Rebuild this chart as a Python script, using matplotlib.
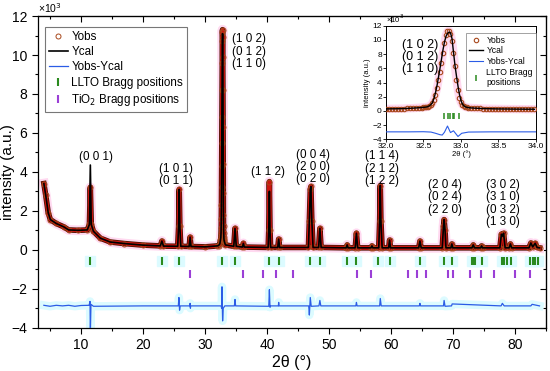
import matplotlib
matplotlib.use('Agg')
import matplotlib.pyplot as plt
import matplotlib.patheffects as pe
from matplotlib.ticker import MultipleLocator, FormatStrFormatter

plt.rcParams['font.family'] = ['Liberation Sans', 'DejaVu Sans']

# ---- data (intensity in units of 10^3 counts) ----
# main pattern before the strongest reflection
tt_a = [4.0, 4.3, 4.7, 5.05, 6.0, 7.2, 8.0, 9.5, 11.0, 11.35, 11.5, 11.65, 12.0, 13.1, 14.7,
        17.0, 20.0, 22.8, 23.05, 23.3, 25.6, 25.75, 25.85, 25.95, 26.1, 27.45, 27.6, 27.75,
        30.0, 32.0, 32.2, 32.4]
obs_a = [3.40, 2.80, 1.90, 1.55, 1.35, 1.18, 1.02, 1.00, 1.02, 1.30, 3.20, 1.30, 0.95, 0.60, 0.40,
         0.32, 0.24, 0.20, 0.45, 0.19, 0.18, 1.20, 3.10, 1.20, 0.18, 0.17, 0.65, 0.17,
         0.15, 0.20, 0.22, 0.30]
cal_a = [3.40, 2.80, 1.90, 1.55, 1.35, 1.18, 1.02, 1.00, 1.02, 1.30, 4.35, 1.30, 0.95, 0.60, 0.40,
         0.32, 0.24, 0.20, 0.45, 0.19, 0.18, 1.20, 3.10, 1.20, 0.18, 0.17, 0.65, 0.17,
         0.15, 0.20, 0.22, 0.30]

# (1 0 2)/(0 1 2)/(1 1 0) reflection, also shown in the inset
tt_pk = [32.50, 32.52, 32.54, 32.56, 32.58, 32.60, 32.62, 32.64, 32.66, 32.68, 32.70, 32.72, 32.74,
         32.76, 32.78, 32.80, 32.82, 32.84, 32.86, 32.88, 32.90, 32.92, 32.94, 32.96, 32.98, 33.00,
         33.02, 33.04, 33.06, 33.08, 33.10]
obs_pk = [0.50, 0.52, 0.55, 0.60, 0.70, 0.85, 1.10, 1.60, 2.30, 3.20, 4.30, 5.50, 6.80,
          8.20, 9.60, 10.70, 11.20, 11.30, 10.90, 9.90, 8.20, 6.30, 4.40, 2.90, 1.80, 1.20,
          0.85, 0.65, 0.55, 0.50, 0.46]
cal_pk = [0.50, 0.52, 0.55, 0.62, 0.73, 0.90, 1.20, 1.75, 2.55, 3.55, 4.75, 6.00, 7.30,
          8.60, 9.70, 10.50, 10.90, 11.10, 11.00, 10.20, 8.30, 6.40, 4.90, 3.50, 2.30, 1.45,
          0.95, 0.70, 0.57, 0.50, 0.46]

# main pattern after the strongest reflection
tt_b = [33.3, 34.65, 34.85, 35.05, 36.05, 36.2, 36.35, 40.2, 40.3, 40.4, 40.5, 40.6, 41.75, 41.9,
        42.05, 46.7, 46.85, 47.0, 47.1, 47.25, 47.45, 48.35, 48.55, 48.75, 52.8, 52.95, 53.1,
        54.25, 54.45, 54.65, 56.8, 56.95, 57.1, 58.05, 58.2, 58.3, 58.4, 58.6, 59.65, 59.8,
        59.95, 64.5, 64.7, 64.9, 68.3, 68.5, 68.6, 68.75, 68.9, 69.7, 69.85, 70.0, 73.1, 73.3,
        73.5, 74.5, 74.65, 74.8, 77.6, 77.85, 78.05, 78.2, 78.45, 79.1, 79.3, 79.5, 82.3, 82.6,
        82.9, 83.3, 83.6, 84.0]
obs_b = [0.25, 0.18, 1.10, 0.18, 0.14, 0.33, 0.14, 0.12, 1.00, 3.50, 1.00, 0.12, 0.12, 0.55,
         0.12, 0.12, 1.50, 3.10, 3.25, 1.50, 0.12, 0.12, 1.10, 0.12, 0.10, 0.25, 0.10,
         0.10, 0.85, 0.10, 0.10, 0.20, 0.10, 0.10, 1.50, 3.30, 1.50, 0.10, 0.10, 0.50,
         0.10, 0.10, 0.45, 0.10, 0.10, 1.20, 1.55, 1.00, 0.10, 0.10, 0.30, 0.10, 0.10, 0.25,
         0.10, 0.10, 0.20, 0.10, 0.10, 0.80, 0.70, 0.85, 0.10, 0.10, 0.30, 0.10, 0.10, 0.35,
         0.15, 0.33, 0.12, 0.10]
cal_b = [0.25, 0.18, 1.10, 0.18, 0.14, 0.33, 0.14, 0.12, 1.00, 3.00, 1.00, 0.12, 0.12, 0.55,
         0.12, 0.12, 1.50, 3.10, 3.25, 1.50, 0.12, 0.12, 1.10, 0.12, 0.10, 0.25, 0.10,
         0.10, 0.85, 0.10, 0.10, 0.20, 0.10, 0.10, 1.50, 3.30, 1.50, 0.10, 0.10, 0.50,
         0.10, 0.10, 0.45, 0.10, 0.10, 1.20, 1.55, 1.00, 0.10, 0.10, 0.30, 0.10, 0.10, 0.25,
         0.10, 0.10, 0.20, 0.10, 0.10, 0.80, 0.70, 0.85, 0.10, 0.10, 0.30, 0.10, 0.10, 0.35,
         0.15, 0.33, 0.12, 0.10]

# difference curve (already offset)
tt_diff = [4.0, 5.0, 6.0, 7.0, 8.0, 9.0, 10.0, 11.3, 11.45, 11.5, 11.6, 12.0, 20.0, 25.7, 25.8,
           25.9, 26.0, 27.55, 27.6, 27.65, 27.7, 32.6, 32.7, 32.75, 32.8, 32.85, 32.95, 33.2,
           34.75, 34.85, 34.95, 40.3, 40.4, 40.5, 40.6, 41.85, 41.9, 41.95, 46.75, 46.85, 47.0,
           47.15, 48.4, 48.55, 48.7, 54.35, 54.45, 54.55, 58.2, 58.3, 58.45, 64.6, 64.7, 64.8,
           68.5, 68.6, 68.75, 69.8, 69.9, 77.8, 78.0, 78.3, 82.6, 82.8, 84.0]
ydiff = [-2.85, -2.90, -2.85, -2.88, -2.85, -2.90, -2.86, -2.85, -2.65, -4.40, -2.80, -2.90, -2.88,
         -2.88, -2.45, -3.10, -2.88, -2.88, -2.75, -3.00, -2.88, -2.88, -3.00, -1.90, -2.90,
         -3.65, -3.00, -2.88, -2.88, -2.55, -2.88, -2.90, -2.05, -2.95, -2.88, -2.88, -2.70,
         -2.88, -2.88, -3.35, -2.45, -2.90, -2.88, -2.60, -2.88, -2.88, -2.70, -2.88, -2.88,
         -2.50, -2.88, -2.88, -2.75, -2.88, -2.88, -2.60, -2.90, -2.88, -2.78, -2.88, -2.75,
         -2.88, -2.88, -2.80, -2.88]

# Bragg positions
llto_pos = [11.5, 23.06, 25.85, 32.74, 34.8, 40.4, 42.0, 47.0, 48.6, 52.9, 54.4, 58.0, 59.8, 64.7,
            68.6, 69.8, 73.1, 73.4, 73.6, 74.7, 77.9, 78.3, 78.7, 79.4, 82.5, 83.0, 83.3, 83.8]
tio2_pos = [27.6, 36.2, 39.35, 41.4, 44.2, 54.5, 56.8, 62.8, 64.2, 65.6, 69.3, 70.0, 72.7, 74.6,
            76.7, 80.0, 82.5]

# inset: baseline on either side of the peak
tt_left = [32.00, 32.04, 32.08, 32.12, 32.16, 32.20, 32.24, 32.28, 32.32, 32.36, 32.40, 32.44, 32.48]
y_left = [0.28, 0.29, 0.30, 0.30, 0.31, 0.32, 0.33, 0.35, 0.37, 0.39, 0.42, 0.45, 0.48]
tt_right = [33.14, 33.18, 33.22, 33.26, 33.30, 33.34, 33.38, 33.42, 33.46, 33.50, 33.54, 33.58,
            33.62, 33.66, 33.70, 33.74, 33.78, 33.82, 33.86, 33.90, 33.94, 33.98]
y_right = [0.42, 0.39, 0.37, 0.35, 0.33, 0.32, 0.31, 0.30, 0.29, 0.28, 0.28, 0.27,
           0.27, 0.26, 0.26, 0.25, 0.25, 0.25, 0.24, 0.24, 0.24, 0.23]
tt_diff_in = [32.0, 32.3, 32.5, 32.6, 32.66, 32.72, 32.75, 32.78, 32.82, 32.86, 32.9, 32.96,
              33.01, 33.1, 33.4, 34.0]
ydiff_in = [-2.95, -2.95, -2.93, -2.98, -3.15, -3.35, -3.40, -3.00, -2.13, -3.05, -2.80, -3.60,
            -3.15, -2.98, -2.95, -2.95]
llto_in = [32.77, 32.83, 32.86, 32.89, 32.91, 32.97]

hkl_main = [(12.4, 4.78, '(0 0 1)'), (25.3, 3.84, '(1 0 1)\n(0 1 1)'),
            (40.2, 4.0, '(1 1 2)'), (47.4, 4.25, '(0 0 4)\n(2 0 0)\n(0 2 0)'),
            (58.55, 4.17, '(1 1 4)\n(2 1 2)\n(1 2 2)'), (68.75, 2.7, '(2 0 4)\n(0 2 4)\n(2 2 0)'),
            (78.1, 2.37, '(3 0 2)\n(3 1 0)\n(0 3 2)\n(1 3 0)')]

tt = tt_a + tt_pk + tt_b
yobs = obs_a + obs_pk + obs_b
ycal = cal_a + cal_pk + cal_b
tt_in = tt_left + tt_pk + tt_right
yobs_in = y_left + obs_pk + y_right
ycal_in = y_left + cal_pk + y_right

c_obs = '#a8481c'
c_red = '#cc1410'
c_diff = '#2b5ce6'
c_llto = '#2a8a1e'
c_tio2 = '#9b3fd6'
c_pink = '#ffd9f0'
c_cyan = '#dcfbff'

fig = plt.figure(figsize=(5.5, 3.71), dpi=100)
ax = fig.add_axes([0.0685, 0.1167, 0.9237, 0.840])

ax.plot(tt, yobs, color=c_pink, lw=7, zorder=1)
ax.plot(tt_diff, ydiff, color=c_cyan, lw=6, zorder=1)
ax.plot(llto_pos, [-0.55] * len(llto_pos), ls='none', marker='s', ms=7, color=c_cyan, zorder=1)
ax.plot(tt, yobs, color=c_red, lw=2.8, zorder=2,
        path_effects=[pe.Stroke(linewidth=4.0, foreground='#4a1200'), pe.Normal()])
ax.plot(tt, yobs, ls='none', marker='o', ms=3.6, mfc='none', mec=c_obs, mew=0.7, zorder=3,
        label='Yobs')
ax.plot(tt, ycal, color='k', lw=1.2, zorder=4, label='Ycal')
ax.plot(tt_diff, ydiff, color=c_diff, lw=0.9, zorder=3, label='Yobs-Ycal')
ax.plot(llto_pos, [-0.55] * len(llto_pos), ls='none', marker='|', ms=5.5, mew=1.5, color=c_llto,
        zorder=3, label='LLTO Bragg positions')
ax.plot(tio2_pos, [-1.25] * len(tio2_pos), ls='none', marker='|', ms=5.5, mew=1.5, color=c_tio2,
        zorder=3, label='TiO$_2$ Bragg positions')

for x, y, s in hkl_main:
    ax.text(x, y, s, ha='center', va='center', multialignment='center', fontsize=8.4,
            linespacing=1.05, zorder=5)
ax.text(34.35, 10.18, '(1 0 2)\n(0 1 2)\n(1 1 0)', ha='left', va='center', fontsize=8.4,
        linespacing=1.05, zorder=5)

ax.set_xlim(3, 85)
ax.set_ylim(-4, 12)
ax.xaxis.set_major_locator(MultipleLocator(10))
ax.xaxis.set_minor_locator(MultipleLocator(5))
ax.yaxis.set_major_locator(MultipleLocator(2))
ax.yaxis.set_minor_locator(MultipleLocator(1))
ax.tick_params(which='both', direction='out', labelsize=10, width=0.8)
ax.tick_params(which='major', length=4)
ax.tick_params(which='minor', length=2.5)
for sp in ax.spines.values():
    sp.set_linewidth(0.9)
secx = ax.secondary_xaxis('top')
secx.xaxis.set_major_locator(MultipleLocator(10))
secx.xaxis.set_minor_locator(MultipleLocator(5))
secx.tick_params(which='both', direction='in', labeltop=False, width=0.8)
secx.tick_params(which='major', length=4)
secx.tick_params(which='minor', length=2.5)
secy = ax.secondary_yaxis('right')
secy.yaxis.set_major_locator(MultipleLocator(2))
secy.yaxis.set_minor_locator(MultipleLocator(1))
secy.tick_params(which='both', direction='in', labelright=False, width=0.8)
secy.tick_params(which='major', length=4)
secy.tick_params(which='minor', length=2.5)

ax.set_xlabel('2θ (°)', fontsize=11.5, labelpad=2)
ax.set_ylabel('intensity (a.u.)', fontsize=11)
ax.yaxis.set_label_coords(-0.044, 0.5)
ax.text(0.0, 1.01, '×10$^3$', transform=ax.transAxes, ha='left', va='baseline', fontsize=7.5)

leg = ax.legend(loc='upper left', bbox_to_anchor=(0.0144, 0.9657), borderaxespad=0,
                fontsize=8.4, frameon=True, fancybox=False, handlelength=1.6,
                handletextpad=0.3, labelspacing=0.28, borderpad=0.35)
leg.get_frame().set_edgecolor('#555555')
leg.get_frame().set_linewidth(0.8)

# ---- inset ----
axin = fig.add_axes([0.7018, 0.6245, 0.2727, 0.3062])
axin.plot(tt_in, yobs_in, color=c_pink, lw=6, zorder=1)
axin.plot(tt_in, yobs_in, ls='none', marker='o', ms=3.2, mfc='none', mec=c_obs, mew=0.8, zorder=3,
          label='Yobs')
axin.plot(tt_in, ycal_in, color='k', lw=1.0, zorder=4, label='Ycal')
axin.plot(tt_diff_in, ydiff_in, color=c_diff, lw=0.8, zorder=3, label='Yobs-Ycal')
axin.plot(llto_in, [-0.65] * len(llto_in), ls='none', marker='|', ms=5, mew=1.1, color=c_llto,
          zorder=3, label='LLTO Bragg\npositions')
axin.text(32.21, 7.55, '(1 0 2)\n(0 1 2)\n(1 1 0)', ha='left', va='center', fontsize=9,
          linespacing=1.0, zorder=5)
axin.set_xlim(32, 34)
axin.set_ylim(-4, 12)
axin.xaxis.set_major_locator(MultipleLocator(0.5))
axin.xaxis.set_major_formatter(FormatStrFormatter('%.1f'))
axin.yaxis.set_major_locator(MultipleLocator(2))
axin.tick_params(direction='out', labelsize=6, length=2, width=0.6, pad=1)
for sp in axin.spines.values():
    sp.set_linewidth(0.7)
axin.set_xlabel('2θ (°)', fontsize=5.5, labelpad=0)
axin.set_ylabel('intensity (a.u.)', fontsize=5.5, labelpad=1)
axin.text(0.0, 1.01, '×10$^3$', transform=axin.transAxes, ha='left', va='bottom', fontsize=5.5)
lin = axin.legend(loc='upper right', bbox_to_anchor=(1.0, 0.94), borderaxespad=0, fontsize=6.2,
                  frameon=True, fancybox=False, handlelength=1.6, handletextpad=0.4,
                  labelspacing=0.2, borderpad=0.35)
lin.get_frame().set_edgecolor('#777777')
lin.get_frame().set_linewidth(0.6)

fig.savefig('out.png', dpi=100)
